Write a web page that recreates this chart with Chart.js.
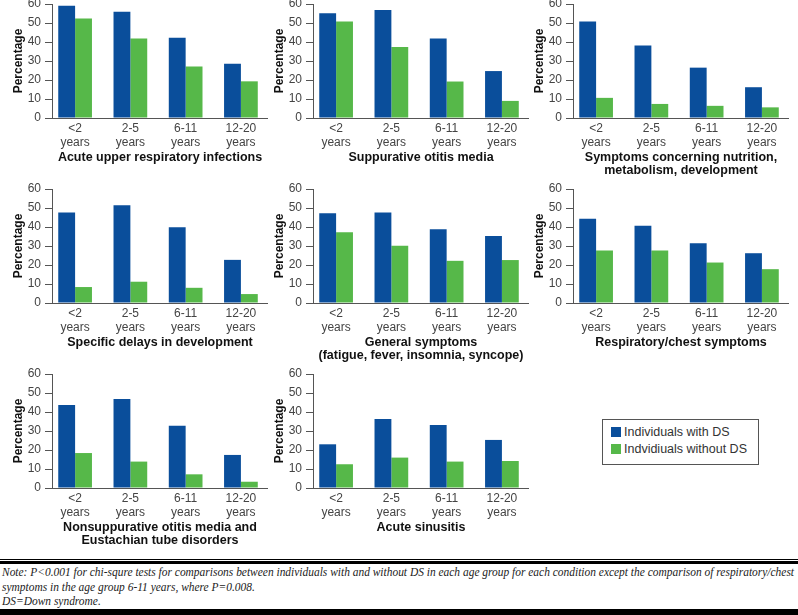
<!DOCTYPE html>
<html>
<head>
<meta charset="utf-8">
<script src="https://cdn.jsdelivr.net/npm/chart.js@4.4.1/dist/chart.umd.min.js"></script>
<style>
  html, body { margin: 0; padding: 0; background: #fff; }
  #page { position: relative; width: 798px; height: 615px; overflow: hidden; background: #fff; }
  .panel { position: absolute; }
  #legend {
    position: absolute; left: 602px; top: 419px; width: 155px; height: 44px;
    border: 1px solid #555; font: 12.5px "Liberation Sans", Arial, sans-serif; color: #333;
  }
  #legend div { position: absolute; left: 8px; white-space: nowrap; line-height: 14px; }
  #legend span { display: inline-block; width: 10px; height: 10px; margin-right: 3px; vertical-align: -1px; }
  #rule1 { position: absolute; left: 0; top: 559px; width: 798px; height: 1px; background: #000; }
  #rule2 { position: absolute; left: 0; top: 561px; width: 798px; height: 3px; background: #000; }
  #note {
    position: absolute; left: 2px; top: 565px; width: 796px;
    font: italic 11.45px "Liberation Serif", "DejaVu Serif", serif; color: #222; line-height: 14.5px;
  }
  #note div { white-space: nowrap; }
  #bottombar { position: absolute; left: 0; top: 609px; width: 798px; height: 6px; background: #000; }
</style>
</head>
<body>
<div id="page">
  <div id="legend">
    <div style="top:5px"><span style="background:#0a4e9b"></span>Individuals with DS</div>
    <div style="top:22px"><span style="background:#56b849"></span>Indvidiuals without DS</div>
  </div>
  <div id="rule1"></div>
  <div id="rule2"></div>
  <div id="note">
    <div>Note: P&lt;0.001 for chi-squre tests for comparisons between individuals with and without DS in each age group for each condition except the comparison of respiratory/chest</div>
    <div>symptoms in the age group 6-11 years, where P=0.008.</div>
    <div>DS=Down syndrome.</div>
  </div>
  <div id="bottombar"></div>
</div>

<script>
// --- Data
const ageGroups = [['<2', 'years'], ['2-5', 'years'], ['6-11', 'years'], ['12-20', 'years']];
const yTicks = [0, 10, 20, 30, 40, 50, 60];
const seriesNames = ['Individuals with DS', 'Indvidiuals without DS'];

const conditions = [
  ['Acute upper respiratory infections'],
  ['Suppurative otitis media'],
  ['Symptoms concerning nutrition,', 'metabolism, development'],
  ['Specific delays in development'],
  ['General symptoms', '(fatigue, fever, insomnia, syncope)'],
  ['Respiratory/chest symptoms'],
  ['Nonsuppurative otitis media and', 'Eustachian tube disorders'],
  ['Acute sinusitis']
];

const withDS = [
  [59.1, 55.9, 42.3, 28.5],
  [55.1, 56.8, 41.8, 24.7],
  [50.8, 38.1, 26.5, 16.2],
  [47.6, 51.4, 39.9, 22.7],
  [47.2, 47.6, 38.8, 35.3],
  [44.4, 40.6, 31.5, 26.2],
  [43.7, 46.8, 32.8, 17.4],
  [23.0, 36.3, 33.2, 25.3]
];

const withoutDS = [
  [52.4, 41.8, 27.1, 19.3],
  [50.8, 37.4, 19.2, 9.0],
  [10.6, 7.4, 6.4, 5.6],
  [8.4, 11.2, 8.0, 4.7],
  [37.3, 30.1, 22.2, 22.6],
  [27.6, 27.6, 21.3, 17.8],
  [18.4, 13.9, 7.2, 3.3],
  [12.5, 16.0, 13.9, 14.2]
];

// --- Layout
const colLeft = [0, 261, 521];
const rowPlotTop = [4, 189, 374];
const blue = '#0a4e9b';
const green = '#56b849';

Chart.defaults.font.family = '"Liberation Sans", Arial, sans-serif';
Chart.defaults.color = '#333';

const page = document.getElementById('page');

conditions.forEach((title, k) => {
  const col = k % 3, row = Math.floor(k / 3);
  const div = document.createElement('div');
  div.className = 'panel';
  div.style.left = colLeft[col] + 'px';
  div.style.top = (rowPlotTop[row] - 14) + 'px';
  const canvas = document.createElement('canvas');
  canvas.width = 268;
  canvas.height = 190;
  div.appendChild(canvas);
  page.appendChild(div);

  const toPts = arr => arr.map((v, i) => ({ x: i, y: v }));

  new Chart(canvas.getContext('2d'), {
    type: 'bar',
    data: {
      datasets: [
        { label: seriesNames[0], data: toPts(withDS[k]), backgroundColor: blue },
        { label: seriesNames[1], data: toPts(withoutDS[k]), backgroundColor: green }
      ]
    },
    options: {
      responsive: false,
      animation: false,
      devicePixelRatio: 1,
      layout: { padding: { top: 14, left: 0, right: 0, bottom: 0 } },
      datasets: { bar: { categoryPercentage: 0.61, barPercentage: 1 } },
      plugins: { legend: { display: false }, tooltip: { enabled: false } },
      scales: {
        x: {
          type: 'linear',
          offset: false,
          min: -0.418,
          max: 3.49,
          afterFit: s => { s.height = 62; },
          grid: { display: false, drawTicks: false },
          border: { display: true, color: '#555', width: 1 },
          ticks: {
            stepSize: 1,
            includeBounds: false,
            autoSkip: false,
            maxRotation: 0,
            padding: 4,
            color: '#444',
            font: { size: 12, lineHeight: 1.17 },
            callback: v => {
              const r = Math.round(v);
              return Math.abs(v - r) < 1e-6 && r >= 0 && r < ageGroups.length ? ageGroups[r] : '';
            }
          },
          title: {
            display: true,
            text: title,
            color: '#111',
            font: { size: 12.5, weight: 'bold', lineHeight: 1.04 },
            padding: { top: 0, bottom: title.length > 1 ? 2.5 : 15.5 }
          }
        },
        y: {
          min: yTicks[0],
          max: yTicks[yTicks.length - 1],
          afterFit: s => { s.width = 52; },
          afterBuildTicks: s => { s.ticks = yTicks.map(v => ({ value: v })); },
          grid: { display: true, drawOnChartArea: false, drawTicks: true, tickLength: 7, color: '#555' },
          border: { display: true, color: '#555', width: 1 },
          ticks: { padding: 4, color: '#444', font: { size: 12 } },
          title: {
            display: true,
            text: 'Percentage',
            color: '#111',
            font: { size: 12, weight: 'bold' },
            padding: { top: 11, bottom: 0 }
          }
        }
      }
    }
  });
});
</script>
</body>
</html>
